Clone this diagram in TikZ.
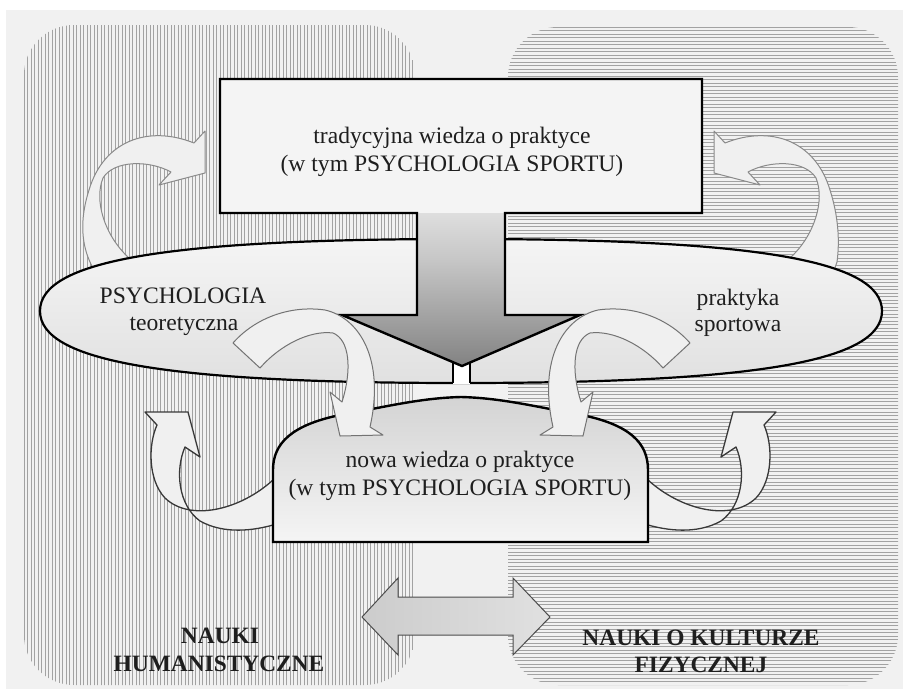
\documentclass[tikz,border=0pt]{standalone}
\usepackage{fontspec}
\setmainfont{Liberation Serif}
\definecolor{bg}{HTML}{F1F1F1}
\definecolor{hatch}{HTML}{A2A2A2}
\definecolor{boxfill}{HTML}{F4F4F4}
\definecolor{arrfill}{HTML}{F0F0F0}
\definecolor{arredge}{HTML}{8A8A8A}
\definecolor{txt}{HTML}{1E1E1E}
\pgfdeclareverticalshading{stemshade}{100bp}{rgb(0bp)=(0.30,0.30,0.30); rgb(30bp)=(0.55,0.55,0.55); rgb(60bp)=(0.78,0.78,0.78); rgb(85bp)=(0.93,0.93,0.93); rgb(100bp)=(0.96,0.96,0.96)}
\begin{document}
\begin{tikzpicture}[x=1pt,y=-1pt,
  lbl/.style={font=\fontsize{23.6}{28}\selectfont, text=txt, inner sep=0pt, anchor=base},
  blbl/.style={font=\fontsize{23.4}{28}\selectfont\bfseries, text=txt, inner sep=0pt, anchor=base},
  carrow/.style={fill=arrfill, draw=arredge, line width=1pt, line join=round},
  darrow/.style={fill=arrfill, draw=black!78, line width=1.3pt, line join=round},
  outl/.style={draw=black, line width=2.4pt, line join=miter},
  hatchline/.style={draw=hatch, line width=0.8pt}]
\useasboundingbox (0,0) rectangle (903,689);
\fill[white] (0,0) rectangle (903,689);
\fill[bg] (6,10) rectangle (903,689);
% left panel (vertical hatching)
\begin{scope}
\clip[rounded corners=50pt] (24,25) rectangle (415,685);
\foreach \x in {24,27.5,...,416} \draw[hatchline] (\x,20) -- (\x,690);
\end{scope}
% right panel (horizontal hatching)
\begin{scope}
\clip[rounded corners=50pt] (508,27) rectangle (898,685);
\foreach \y in {27,30.5,...,686} \draw[hatchline] (500,\y) -- (900,\y);
\end{scope}
% upper curved arrows (behind the ellipse)
\path[carrow] (98,280) -- (90,262) .. controls (80,240) and (81,215) .. (89,190)
  .. controls (104,140) and (149,125) .. (194,143) -- (205,131) -- (205,173) -- (159,185) -- (171,172)
  .. controls (149,160) and (114,160) .. (103,178) .. controls (94,200) and (104,235) .. (129,258) -- (145,272) -- cycle;
\path[carrow] (830,282) -- (837,262) .. controls (840,240) and (838,215) .. (830,190)
  .. controls (815,140) and (770,125) .. (725,143) -- (714,131) -- (714,173) -- (760,185) -- (748,172)
  .. controls (770,160) and (805,160) .. (816,178) .. controls (825,200) and (815,235) .. (790,258) -- (775,272) -- cycle;
% ellipse
\shade[top color=white!96!black, bottom color=white!88!black, draw=black, line width=2.2pt]
  (882,311) .. controls (882,260.6) and (756,239) .. (461,239) .. controls (166,239) and (40,260.6) .. (40,311)
  .. controls (40,361.4) and (166,383) .. (461,383) .. controls (756,383) and (882,361.4) .. (882,311) -- cycle;
% neck under the tip
\fill[white] (453,360) rectangle (470,384);
\draw[line width=1.6pt] (453,360) -- (453,383) (470,360) -- (470,383);
% T-shaped arrow
\fill[boxfill] (220,79) -- (702,79) -- (702,213) -- (505,213) -- (505,315) -- (580,315) -- (462,366)
  -- (342,315) -- (417,315) -- (417,213) -- (220,213) -- cycle;
\begin{scope}
\clip (417,213) -- (417,315) -- (342,315) -- (462,366) -- (580,315) -- (505,315) -- (505,213) -- cycle;
\shade[shading=stemshade] (340,213) rectangle (582,366);
\end{scope}
\draw[outl] (220,79) -- (702,79) -- (702,213) -- (505,213) -- (505,315) -- (580,315) -- (462,366)
  -- (342,315) -- (417,315) -- (417,213) -- (220,213) -- cycle;
% lower curved arrows (behind the lower box)
\path[darrow] (292,476) -- (273,480) .. controls (240,510) and (190,522) .. (165,498)
  .. controls (148,480) and (148,445) .. (157,425) -- (145,412) -- (188,412) -- (200,457) -- (185,447)
  .. controls (175,470) and (178,505) .. (200,521) .. controls (225,535) and (255,530) .. (273,525) -- (292,527) -- cycle;
\path[darrow] (629,476) -- (648,480) .. controls (681,510) and (731,522) .. (756,498)
  .. controls (773,480) and (773,445) .. (764,425) -- (776,412) -- (733,412) -- (721,457) -- (736,447)
  .. controls (746,470) and (743,505) .. (721,521) .. controls (696,535) and (666,530) .. (648,525) -- (629,527) -- cycle;
% lower box
\shade[top color=white!83!black, bottom color=white!96!black, draw=black, line width=2.4pt, line join=miter]
  (273,542) -- (273,470) .. controls (273,443) and (292,425) .. (340,415) .. controls (385,407) and (420,398) .. (461,397)
  .. controls (502,398) and (537,407) .. (582,415) .. controls (630,425) and (648,443) .. (648,470) -- (648,542) -- cycle;
% middle curved arrows (on top)
\path[carrow, draw=black!55] (233,343) .. controls (255,318) and (290,305) .. (325,310)
  .. controls (360,318) and (385,360) .. (370,427) -- (383,435) -- (340,436) -- (330,392) -- (342,402)
  .. controls (352,370) and (350,340) .. (333,333) .. controls (310,330) and (280,345) .. (260,368) -- cycle;
\path[carrow, draw=black!55] (690,343) .. controls (668,318) and (633,305) .. (598,310)
  .. controls (563,318) and (538,360) .. (553,427) -- (540,435) -- (583,436) -- (593,392) -- (581,402)
  .. controls (571,370) and (573,340) .. (590,333) .. controls (613,330) and (643,345) .. (663,368) -- cycle;
% double arrow
\shade[left color=white!80!black, right color=white!88!black, draw=black!70, line width=1pt, line join=miter]
  (362,617) -- (398,578) -- (398,597) -- (513,597) -- (513,578) -- (550,617) -- (513,655) -- (513,635)
  -- (398,635) -- (398,655) -- cycle;
% texts
\node[lbl] (t1) at (452,143) {tradycyjna wiedza o praktyce};
\node[lbl] (t2) at (452,171) {(w tym PSYCHOLOGIA SPORTU)};
\node[lbl] (p1) at (183,303) {PSYCHOLOGIA};
\node[lbl] (p2) at (184,330) {teoretyczna};
\node[lbl] (s1) at (738,305) {praktyka};
\node[lbl] (s2) at (738,331) {sportowa};
\node[lbl] (n1) at (460,467) {nowa wiedza o praktyce};
\node[lbl] (n2) at (460,495) {(w tym PSYCHOLOGIA SPORTU)};
\node[blbl] (h1) at (220,643) {NAUKI};
\node[blbl] (h2) at (219,671) {HUMANISTYCZNE};
\node[blbl] (k1) at (701,645) {NAUKI O KULTURZE};
\node[blbl] (k2) at (701,672) {FIZYCZNEJ};
\end{tikzpicture}
\end{document}
